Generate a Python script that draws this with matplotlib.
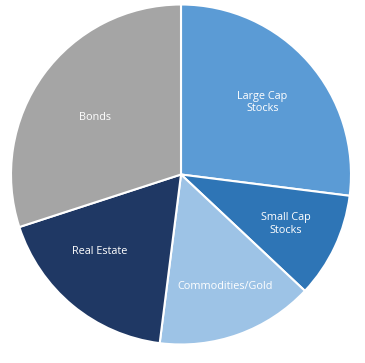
import matplotlib.pyplot as plt
import numpy as np

labels = ["Large Cap\nStocks", "Small Cap\nStocks", "Commodities/Gold", "Real Estate", "Bonds"]
shares = [27, 10, 15, 18, 30]
colors = ["#5B9BD5", "#2E75B6", "#9DC3E6", "#1F3864", "#A5A5A5"]
# label placement tweaks (radius fraction, angle shift in degrees)
label_radius = [0.64, 0.68, 0.71, 0.66, 0.61]
label_shift = [0, 0, 1.5, -7, 2.5]

fig = plt.figure(figsize=(3.65, 3.63), dpi=100)
ax = fig.add_axes([11 / 365, 18.5 / 363, 340 / 365, 340 / 363])

wedges, _ = ax.pie(shares, colors=colors, startangle=90, counterclock=False,
                   wedgeprops=dict(edgecolor="white", linewidth=1.5))

for w, lab, r, s in zip(wedges, labels, label_radius, label_shift):
    mid = np.deg2rad((w.theta1 + w.theta2) / 2 + s)
    ax.text(r * np.cos(mid), r * np.sin(mid), lab, ha="center", va="center",
            color="white", fontsize=7.8, family="Open Sans", linespacing=1.2)

ax.set_xlim(-1, 1)
ax.set_ylim(-1, 1)
fig.savefig("out.png", dpi=100)
